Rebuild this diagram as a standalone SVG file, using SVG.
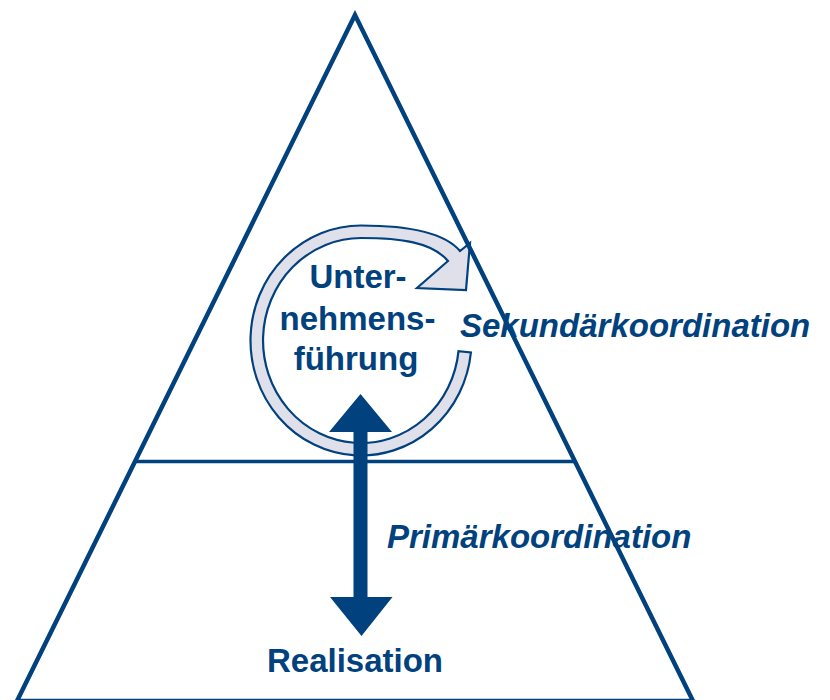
<svg xmlns="http://www.w3.org/2000/svg" width="830" height="700" viewBox="0 0 830 700">
  <style>
    .frame { fill: none; stroke: #00417e; stroke-width: 4.5; stroke-linejoin: miter; stroke-miterlimit: 10; }
    .divider { stroke: #00417e; stroke-width: 3.5; }
    .cycle { fill: #dfe0ea; stroke: #00417e; stroke-width: 2.2; stroke-linejoin: miter; }
    .bold { font-family: "Liberation Sans", Arial, sans-serif; font-weight: bold; font-size: 33px; fill: #00417e; }
    .italic { font-style: italic; }
    .arrow { fill: #00417e; }
  </style>
  <rect width="830" height="700" fill="#ffffff"/>

  <!-- circular management loop -->
  <g id="loop">
    <path class="cycle" d="M 470.9 352.5 A 110.5 115 0 1 1 361 225.5 C 405 225.5 443.8 231.9 460 251 L 470 243 L 466 290 L 417 288 L 448 261 C 432 242 400 238 361 238 A 98 102.5 0 1 0 458.5 351.2 Z"/>
  </g>

  <!-- pyramid outline with level divider -->
  <g id="pyramid">
    <polygon class="frame" points="355,15 17,701 693,701"/>
    <line class="divider" x1="135" y1="461.5" x2="576" y2="461.5"/>
  </g>

  <!-- connectors -->
  <g id="connectors">
    <polygon class="arrow" points="360.5,394 392,432 367.5,432 367.5,597 392.5,597 361.5,636 330,597 353.5,597 353.5,432 329,432"/>
  </g>

  <g id="management">
    <text class="bold" text-anchor="middle" x="358" y="288">Unter-</text>
    <text class="bold" text-anchor="middle" x="357.5" y="330">nehmens-</text>
    <text class="bold" text-anchor="middle" x="356" y="370">führung</text>
  </g>

  <g id="secondary">
    <text class="bold italic" x="460" y="337">Sekundärkoordination</text>
  </g>

  <g id="primary">
    <text class="bold italic" x="387" y="548">Primärkoordination</text>
  </g>

  <g id="realisation">
    <text class="bold" text-anchor="middle" x="355" y="672">Realisation</text>
  </g>
</svg>
